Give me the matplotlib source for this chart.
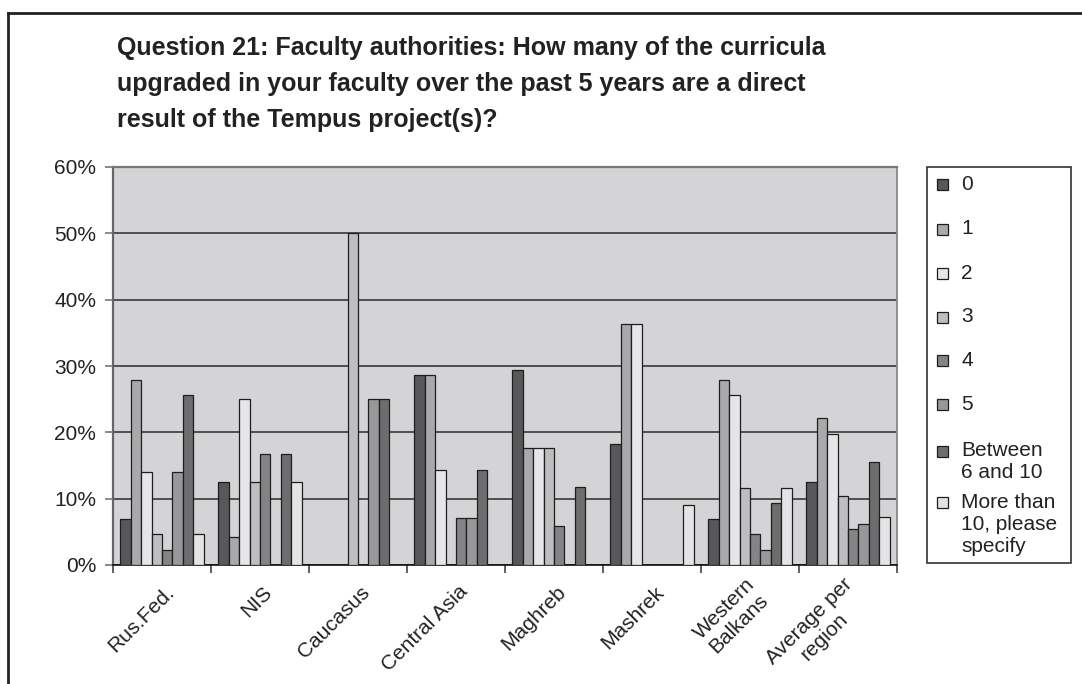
import matplotlib
matplotlib.use("Agg")
import matplotlib.pyplot as plt
import numpy as np
from matplotlib.ticker import PercentFormatter, FixedLocator
from matplotlib.patches import Rectangle
from matplotlib.lines import Line2D
import matplotlib.transforms as mtransforms

# ---------------- data ----------------
categories = ["Rus.Fed.", "NIS", "Caucasus", "Central Asia", "Maghreb",
              "Mashrek", "Western\nBalkans", "Average per\nregion"]
series_names = ["0", "1", "2", "3", "4", "5",
                "Between\n6 and 10", "More than\n10, please\nspecify"]
s_0 = [7.0, 12.5, 0.0, 28.6, 29.4, 18.2, 7.0, 12.5]
s_1 = [27.9, 4.2, 0.0, 28.6, 17.6, 36.4, 27.9, 22.1]
s_2 = [14.0, 25.0, 0.0, 14.3, 17.6, 36.4, 25.6, 19.8]
s_3 = [4.7, 12.5, 50.0, 0.0, 17.6, 0.0, 11.6, 10.4]
s_4 = [2.3, 16.7, 0.0, 7.1, 5.9, 0.0, 4.7, 5.5]
s_5 = [14.0, 0.0, 25.0, 7.1, 0.0, 0.0, 2.3, 6.2]
s_6_10 = [25.6, 16.7, 25.0, 14.3, 11.8, 0.0, 9.3, 15.6]
s_more = [4.7, 12.5, 0.0, 0.0, 0.0, 9.1, 11.6, 7.2]
series_values = [s_0, s_1, s_2, s_3, s_4, s_5, s_6_10, s_more]
y_ticks = [0.0, 0.1, 0.2, 0.3, 0.4, 0.5, 0.6]
title = ("Question 21: Faculty authorities: How many of the curricula\n"
         "upgraded in your faculty over the past 5 years are a direct\n"
         "result of the Tempus project(s)?")

colors = ['#58585a', '#a9a9ab', '#e6e6e8', '#bebec0',
          '#848486', '#98989a', '#6d6d6f', '#e4e4e6']

plt.rcParams['font.family'] = ['Liberation Sans', 'DejaVu Sans']

W, H = 1082, 684
fig = plt.figure(figsize=(W / 100, H / 100), dpi=100)


def fx(x):
    return x / W


def fy(y):
    return 1 - y / H


ax = fig.add_axes([fx(113), fy(565), (897 - 113) / W, (565 - 167) / H])
ax.set_facecolor('#d4d4d6')

n_cat = len(categories)
n_ser = len(series_values)
w = 0.106
for j, (vals, col) in enumerate(zip(series_values, colors)):
    vals = np.array(vals) / 100
    xs = np.arange(n_cat) + 0.5 + (j - (n_ser - 1) / 2) * w
    keep = vals > 0
    ax.bar(xs[keep], vals[keep], width=w, color=col,
           edgecolor='#1e1e1e', linewidth=0.9, zorder=3)

ax.set_xlim(0, n_cat)
ax.set_ylim(0, 0.6)
ax.yaxis.set_major_locator(FixedLocator(y_ticks))
ax.yaxis.set_major_formatter(PercentFormatter(1.0, decimals=0))
ax.grid(axis='y', color='#2a2a2a', linewidth=1.1, zorder=1)
ax.set_axisbelow(True)

ax.set_xticks(np.arange(n_cat + 1))
ax.set_xticklabels([])
ax.tick_params(axis='x', length=6, width=1.2, color='#444444')
ax.tick_params(axis='y', length=6, width=1.2, color='#777777',
               labelsize=15, pad=6, labelcolor='#222222')

for side, c, lw in [('left', '#666666', 1.6), ('top', '#777777', 1.6),
                    ('right', '#888888', 1.3), ('bottom', '#111111', 1.2)]:
    ax.spines[side].set_color(c)
    ax.spines[side].set_linewidth(lw)

# category labels
off = mtransforms.ScaledTranslation(9 / 100, -24 / 100, fig.dpi_scale_trans)
for i, cat in enumerate(categories):
    ax.text(i + 0.5, 0, cat, transform=ax.get_xaxis_transform() + off,
            rotation=45, rotation_mode='anchor', ha='right', va='center',
            multialignment='center', fontsize=15, color='#222222',
            linespacing=1.15)

# title
fig.text(fx(117), fy(36), title, ha='left', va='top', fontsize=18,
         fontweight='bold', color='#222222', linespacing=1.62)

# legend (drawn manually)
fig.add_artist(Rectangle((fx(927), fy(563)), (1071 - 927) / W, (563 - 167) / H,
                         transform=fig.transFigure, fill=False,
                         ec='#333333', lw=1.2))
leg_y = [185, 229, 273, 317, 360, 404, 451, 502]
for name, col, yc in zip(series_names, colors, leg_y):
    fig.add_artist(Rectangle((fx(937), fy(yc + 5.5)), 11 / W, 11 / H,
                             transform=fig.transFigure, fc=col,
                             ec='#1e1e1e', lw=0.9))
    fig.text(fx(961), fy(yc - 9.5), name, ha='left', va='top', fontsize=15,
             color='#222222', linespacing=1.2)

# outer frame
fig.add_artist(Line2D([fx(8), 1], [fy(13), fy(13)], transform=fig.transFigure,
                      color='#222222', lw=2))
fig.add_artist(Line2D([fx(8), fx(8)], [fy(13), 0], transform=fig.transFigure,
                      color='#222222', lw=2))

fig.savefig('out.png', dpi=100)
